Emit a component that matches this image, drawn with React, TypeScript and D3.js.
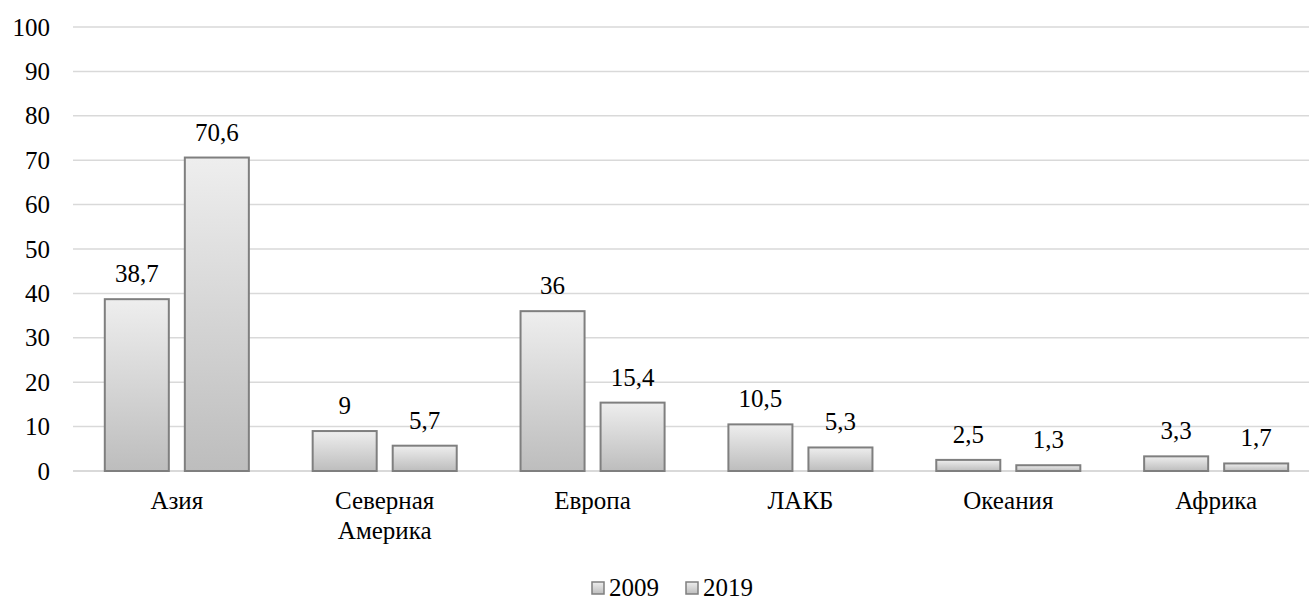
import * as d3 from 'd3';

const W = 1309;
const H = 601;

const categories = ['Азия', 'Северная Америка', 'Европа', 'ЛАКБ', 'Океания', 'Африка'];
const series = ['2009', '2019'];
const values2009 = [38.7, 9, 36, 10.5, 2.5, 3.3];
const values2019 = [70.6, 5.7, 15.4, 5.3, 1.3, 1.7];
const yTicks = [0, 10, 20, 30, 40, 50, 60, 70, 80, 90, 100];

const FONT = "'Liberation Serif', 'Times New Roman', serif";
const FS = 25;

const plotLeft = 73;
const plotRight = 1320; // plot runs a bit past the picture's right edge
const yBottom = 471;
const yTop = 27;

const ru = (v: number) => String(v).replace('.', ',');

export default function App() {
  const x = d3.scaleBand<string>().domain(categories).range([plotLeft, plotRight]).paddingInner(0.307).paddingOuter(0.153);
  const x1 = d3.scaleBand<string>().domain(series).range([0, x.bandwidth()]).paddingInner(0.2);
  const y = d3.scaleLinear().domain([0, 100]).range([yBottom, yTop]);

  const rows = categories.map((c, i) => ({ c, vals: [values2009[i], values2019[i]] }));

  return (
    <svg
      width={W}
      height={H}
      fontFamily={FONT}
      fontSize={FS}
      style={{ display: 'block', position: 'absolute', left: 0, top: 0 }}
    >
      <defs>
        <linearGradient id="barGrad" x1="0" y1="0" x2="0" y2="1">
          <stop offset="0%" stopColor="#eeeeee" />
          <stop offset="100%" stopColor="#bdbdbd" />
        </linearGradient>
      </defs>
      <rect width={W} height={H} fill="#fff" />
      {yTicks.map((t) => (
        <g key={t}>
          <line x1={plotLeft} x2={W} y1={y(t)} y2={y(t)} stroke="#d9d9d9" strokeWidth={t === 0 ? 2 : 1.5} />
          <text x={50} y={y(t)} dy="0.34em" textAnchor="end" fill="#000">
            {t}
          </text>
        </g>
      ))}
      {rows.map((r) => {
        const g0 = x(r.c) ?? 0;
        const cx = g0 + x.bandwidth() / 2;
        return (
          <g key={r.c}>
            {r.vals.map((v, s) => {
              const left = g0 + (x1(series[s]) ?? 0);
              return (
                <g key={s}>
                  <rect
                    x={left}
                    y={y(v)}
                    width={x1.bandwidth()}
                    height={y(0) - y(v)}
                    fill="url(#barGrad)"
                    stroke="#7f7f7f"
                    strokeWidth={2}
                  />
                  <text x={left + x1.bandwidth() / 2} y={y(v) - 17} textAnchor="middle" fill="#000">
                    {ru(v)}
                  </text>
                </g>
              );
            })}
            <text x={cx} y={509} textAnchor="middle" fill="#000">
              {r.c.split(' ').map((w, k) => (
                <tspan key={k} x={cx} dy={k === 0 ? 0 : 30}>
                  {w}
                </tspan>
              ))}
            </text>
          </g>
        );
      })}
      {series.map((s, k) => {
        const lx = 592 + k * 94;
        return (
          <g key={s}>
            <rect x={lx} y={582} width={12} height={12} fill="url(#barGrad)" stroke="#7f7f7f" strokeWidth={1.5} />
            <text x={lx + 17} y={596} fill="#000">
              {s}
            </text>
          </g>
        );
      })}
    </svg>
  );
}
